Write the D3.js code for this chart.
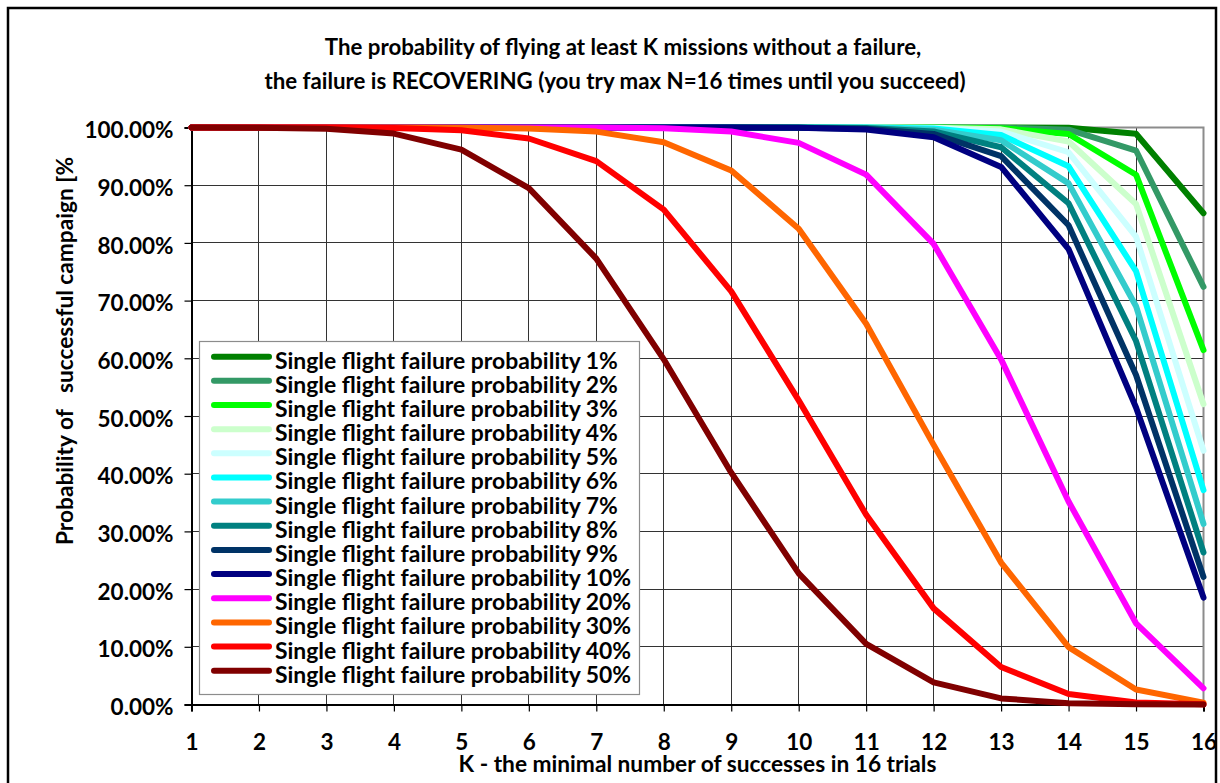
<!DOCTYPE html>
<html>
<head>
<meta charset="utf-8">
<script src="https://cdn.jsdelivr.net/npm/d3@7"></script>
<style>
  body { margin: 0; background: #fff; }
  svg { display: block; }
  text { font-family: Lato, "Open Sans", sans-serif; font-weight: 700; fill: #000; }
</style>
</head>
<body>
<svg id="chart" width="1220" height="783"></svg>
<script>
// K: minimal number of successes out of 16 trials
const kValues = [1, 2, 3, 4, 5, 6, 7, 8, 9, 10, 11, 12, 13, 14, 15, 16];
const yTicks = [0, 10, 20, 30, 40, 50, 60, 70, 80, 90, 100];

// Probability (%) of a successful campaign for each single-flight failure probability
const fail01 = [100, 100, 100, 100, 100, 100, 100, 100, 100, 100, 100, 100, 100, 99.95, 98.91, 85.15];
const fail02 = [100, 100, 100, 100, 100, 100, 100, 100, 100, 100, 100, 100, 99.97, 99.63, 96.01, 72.38];
const fail03 = [100, 100, 100, 100, 100, 100, 100, 100, 100, 100, 100, 99.99, 99.89, 98.87, 91.82, 61.43];
const fail04 = [100, 100, 100, 100, 100, 100, 100, 100, 100, 100, 100, 99.97, 99.68, 97.58, 86.73, 52.04];
const fail05 = [100, 100, 100, 100, 100, 100, 100, 100, 100, 100, 99.99, 99.91, 99.30, 95.71, 81.08, 44.01];
const fail06 = [100, 100, 100, 100, 100, 100, 100, 100, 100, 100, 99.99, 99.82, 98.69, 93.28, 75.11, 37.16];
const fail07 = [100, 100, 100, 100, 100, 100, 100, 100, 100, 100, 99.95, 99.62, 97.79, 90.32, 69.03, 31.31];
const fail08 = [100, 100, 100, 100, 100, 100, 100, 100, 100, 99.99, 99.90, 99.32, 96.58, 86.88, 62.99, 26.34];
const fail09 = [100, 100, 100, 100, 100, 100, 100, 100, 99.99, 99.97, 99.80, 98.89, 95.04, 83.06, 57.10, 22.11];
const fail10 = [100, 100, 100, 100, 100, 100, 100, 100, 99.99, 99.95, 99.67, 98.30, 93.16, 78.93, 51.47, 18.53];
const fail20 = [100, 100, 100, 100, 100, 100, 99.98, 99.85, 99.30, 97.33, 91.83, 79.82, 59.81, 35.18, 14.07, 2.81];
const fail30 = [100, 100, 100, 100, 99.97, 99.84, 99.29, 97.43, 92.56, 82.47, 65.98, 44.99, 24.59, 9.94, 2.61, 0.33];
const fail40 = [100, 100, 99.99, 99.91, 99.51, 98.09, 94.17, 85.77, 71.61, 52.72, 32.88, 16.66, 6.51, 1.83, 0.33, 0.03];
const fail50 = [100, 99.97, 99.79, 98.94, 96.16, 89.49, 77.28, 59.82, 40.18, 22.72, 10.51, 3.84, 1.06, 0.21, 0.03, 0.00];

const seriesNames = [
  "Single flight failure probability 1%",
  "Single flight failure probability 2%",
  "Single flight failure probability 3%",
  "Single flight failure probability 4%",
  "Single flight failure probability 5%",
  "Single flight failure probability 6%",
  "Single flight failure probability 7%",
  "Single flight failure probability 8%",
  "Single flight failure probability 9%",
  "Single flight failure probability 10%",
  "Single flight failure probability 20%",
  "Single flight failure probability 30%",
  "Single flight failure probability 40%",
  "Single flight failure probability 50%"
];
const seriesValues = [fail01, fail02, fail03, fail04, fail05, fail06, fail07,
                      fail08, fail09, fail10, fail20, fail30, fail40, fail50];
const seriesColors = ["#008000", "#339966", "#00FF00", "#CCFFCC", "#CCFFFF", "#00FFFF", "#33CCCC",
                      "#008080", "#003366", "#000080", "#FF00FF", "#FF6600", "#FF0000", "#800000"];

const titleLines = [
  "The probability of flying at least K missions without a failure,",
  "the failure is RECOVERING (you try max N=16 times until you succeed)"
];
const xTitle = "K - the minimal number of successes in 16 trials";
const yTitle = "Probability of   successful campaign [%";

const series = seriesNames.map((name, i) => ({
  name, color: seriesColors[i],
  points: kValues.map((k, j) => ({ k, v: seriesValues[i][j] }))
}));

const svg = d3.select("#chart");

// font size that makes a string span a given width
function fitSize(str, width) {
  const t = svg.append("text").attr("font-size", 100).text(str);
  const w = t.node().getComputedTextLength();
  t.remove();
  return 100 * width / w;
}

const plot = { left: 191.5, right: 1203.5, top: 127.5, bottom: 704.5 };
const x = d3.scaleLinear().domain([1, 16]).range([plot.left, plot.right]);
const y = d3.scaleLinear().domain([0, 100]).range([plot.bottom, plot.top]);

// outer frame
svg.append("rect")
  .attr("x", 8).attr("y", 8).attr("width", 1208).attr("height", 820)
  .attr("fill", "none").attr("stroke", "#000").attr("stroke-width", 2.5);

// title
const titleSize = fitSize(titleLines[1], 702);
const titleG = svg.append("g").attr("font-size", titleSize).attr("text-anchor", "middle");
titleG.append("text").attr("x", 623).attr("y", 55).text(titleLines[0]);
titleG.append("text").attr("x", 615).attr("y", 89).text(titleLines[1]);

// grid
const grid = svg.append("g").attr("stroke", "#333").attr("stroke-width", 1).attr("shape-rendering", "crispEdges");
grid.selectAll("line.h").data(yTicks.filter(d => d > 0 && d < 100)).join("line")
  .attr("class", "h")
  .attr("x1", plot.left).attr("x2", plot.right)
  .attr("y1", d => y(d)).attr("y2", d => y(d));
grid.selectAll("line.v").data(kValues.filter(k => k > 1 && k < 16)).join("line")
  .attr("class", "v")
  .attr("x1", d => x(d)).attr("x2", d => x(d))
  .attr("y1", plot.top).attr("y2", plot.bottom);

// plot border (top and right)
svg.append("path")
  .attr("d", `M${plot.left},${plot.top}H${plot.right}V${plot.bottom}`)
  .attr("fill", "none").attr("stroke", "#8c8c8c").attr("stroke-width", 2);

// axes
const tickSize = fitSize("100.00%", 89);
const yAxis = svg.append("g")
  .attr("transform", `translate(${plot.left},0)`)
  .call(d3.axisLeft(y).tickValues(yTicks).tickFormat(d => d.toFixed(2) + "%").tickSize(7).tickPadding(11));
const xAxis = svg.append("g")
  .attr("transform", `translate(0,${plot.bottom})`)
  .call(d3.axisBottom(x).tickValues(kValues).tickFormat(d3.format("d")).tickSize(7));

[yAxis, xAxis].forEach(g => {
  g.attr("font-family", null).attr("font-size", tickSize);
  g.select(".domain").attr("stroke", "#000").attr("stroke-width", 2);
  g.selectAll(".tick line").attr("stroke", "#000").attr("stroke-width", 1.2);
  g.selectAll(".tick text").attr("fill", "#000");
});
yAxis.selectAll(".tick text").attr("dy", "0.45em");
xAxis.selectAll(".tick text").attr("y", 750 - plot.bottom).attr("dy", 0);

// axis titles
const axisTitleSize = fitSize(xTitle, 478);
svg.append("text")
  .attr("font-size", axisTitleSize).attr("text-anchor", "middle")
  .attr("x", (plot.left + plot.right) / 2).attr("y", 772)
  .text(xTitle);
svg.append("text")
  .attr("font-size", axisTitleSize).attr("text-anchor", "start")
  .attr("xml:space", "preserve").style("white-space", "pre")
  .attr("transform", "translate(73,545) rotate(-90)")
  .text(yTitle);

// series lines
const line = d3.line().x(d => x(d.k)).y(d => y(d.v));
svg.append("g").selectAll("path").data(series).join("path")
  .attr("d", d => line(d.points))
  .attr("fill", "none")
  .attr("stroke", d => d.color)
  .attr("stroke-width", 6)
  .attr("stroke-linecap", "round")
  .attr("stroke-linejoin", "round");

// legend
const legend = svg.append("g");
legend.append("rect")
  .attr("x", 199.5).attr("y", 341.5).attr("width", 440).attr("height", 353)
  .attr("fill", "#fff").attr("stroke", "#8c8c8c").attr("stroke-width", 1.2);
const legendSize = fitSize(seriesNames[0], 343);
const rowY = d3.scaleLinear().domain([0, series.length - 1]).range([356.7, 670.7]);
const rows = legend.selectAll("g.row").data(series).join("g")
  .attr("class", "row")
  .attr("transform", (d, i) => `translate(0,${rowY(i)})`);
rows.append("line")
  .attr("x1", 214).attr("x2", 269)
  .attr("stroke", d => d.color).attr("stroke-width", 6).attr("stroke-linecap", "round");
rows.append("text")
  .attr("x", 275).attr("y", 12)
  .attr("font-size", legendSize)
  .text(d => d.name);
</script>
</body>
</html>
